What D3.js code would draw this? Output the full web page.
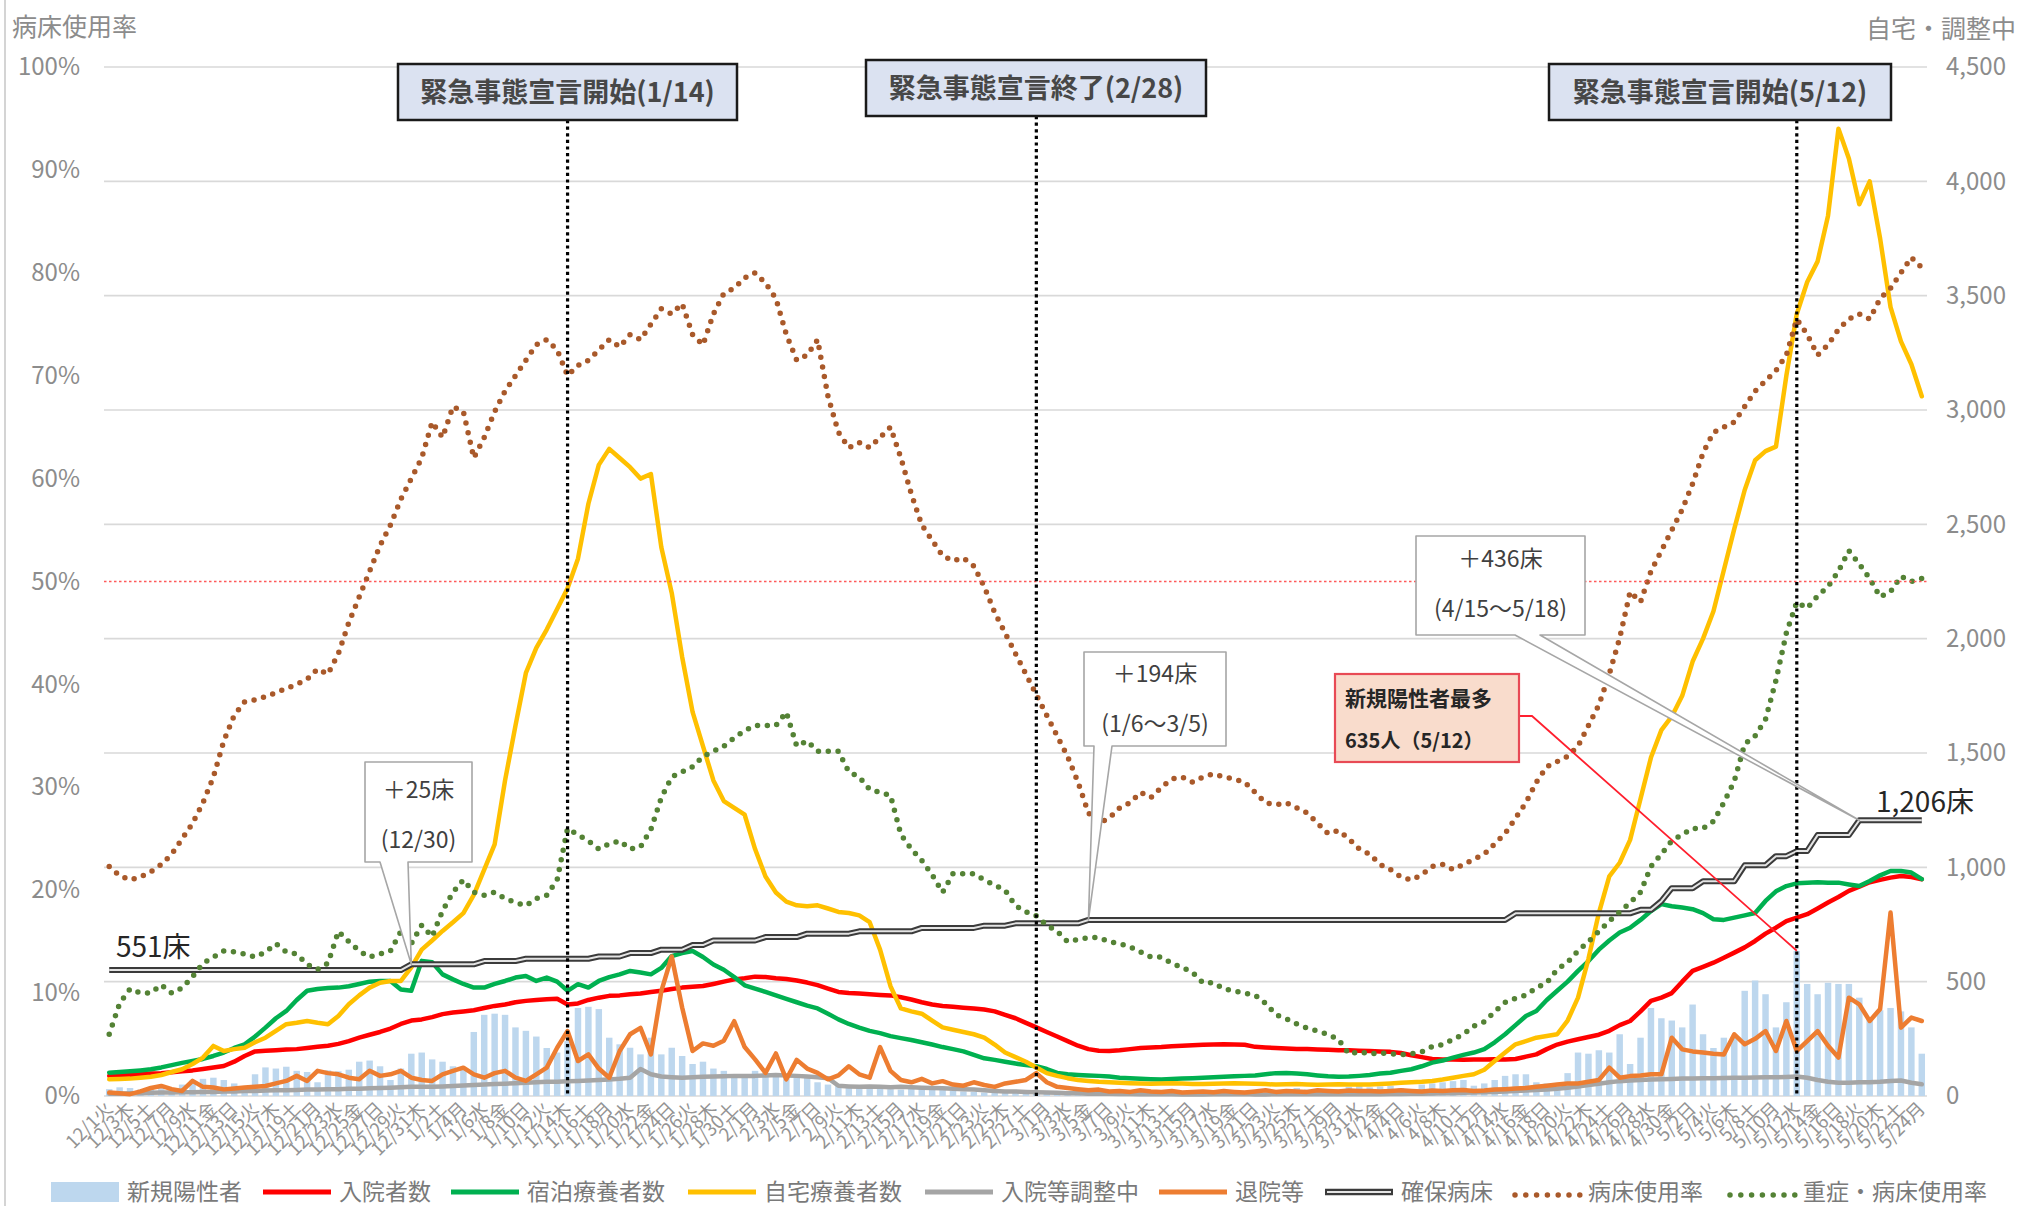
<!DOCTYPE html>
<html lang="ja">
<head>
<meta charset="utf-8">
<script src="https://cdn.jsdelivr.net/npm/d3@7"></script>
<style>
  body { margin: 0; background: #fff; }
  svg { display: block; font-family: "Noto Sans CJK JP", "Noto Sans", sans-serif; }
</style>
</head>
<body>
<svg id="chart" width="2024" height="1206"></svg>
<script>
// ---- data: daily values, 2020-12-01 .. 2021-05-24 (175 days) ----
const days = d3.utcDay.range(new Date(Date.UTC(2020, 11, 1)), new Date(Date.UTC(2021, 4, 25)));

// 新規陽性者 (people per day)
const newCases = [
  30,38,35,28,40,36,25,50,68,75, 80,70,55,40,95,125,120,128,110,105, 60,112,108,115,150,155,130,70,120,185,190,
  160,150,130,120,280,355,360,355,300,285, 260,210,190,240,385,390,380,255,226,211, 182,255,182,211,175,140,150,120,110,95,80,
  110,100,95,90,85,80,60,50,45,42, 40,38,35,30,28,32,30,28,26,22, 20,18,15,22,25,20,18,12,
  10,15,20,18,15,12,10,8,14,16, 18,20,15,12,10,14,22,20,18,15, 12,10,25,30,35,28,20,15,30,40,45,
  38,42,45,35,30,50,55,60,65,70, 45,55,70,88,95,95,60,55,50,100, 190,185,200,190,270,140,255,385,340,330,
  300,400,270,210,255,255,460,505,445,300, 410,635,490,445,495,490,490,430,345,375, 385,370,300,185
];
// 入院者数
const inpatients = [
  88,90,92,95,98,100,104,108,112,118, 125,131,150,175,195,198,200,203,205,210, 215,220,228,240,255,268,280,295,315,330,335,
  345,358,365,370,375,385,394,400,410,416, 420,423,425,400,405,420,430,438,440,445, 448,455,460,468,474,478,481,490,500,510,515,
  522,520,515,512,505,496,485,470,455,450, 448,445,442,440,432,422,410,400,394,390, 386,383,378,370,355,340,320,300,
  280,260,240,220,205,198,197,200,205,210, 212,214,218,220,222,224,225,226,225,224, 215,212,210,208,206,205,203,202,200,200,198,
  197,195,193,188,178,170,162,160,160,158, 160,160,161,160,162,172,182,205,225,238, 248,258,268,285,310,328,370,416,430,450,
  500,547,565,583,605,627,650,678,710,736, 765,780,795,820,846,870,897,915,935,945, 955,962,958,948
];
// 宿泊療養者数
const hotel = [
  102,105,108,112,117,125,135,145,153,162, 175,190,210,226,260,299,340,372,420,460, 468,472,474,480,490,500,503,503,466,460,591,
  585,532,510,490,474,474,490,503,518,525, 503,518,500,460,489,474,503,520,532,547, 540,532,560,612,625,634,608,575,552,520,484,
  470,455,440,425,410,395,383,360,335,315, 299,285,275,262,253,245,235,225,214,205, 195,180,165,158,150,142,135,130,
  118,101,95,92,90,88,85,80,78,75, 73,72,74,76,78,80,82,84,86,88, 90,95,100,101,98,95,90,86,84,85,88,
  92,98,102,110,117,130,146,155,168,180, 190,205,235,270,310,350,372,420,460,500, 547,590,640,680,715,736,770,809,839,830,
  824,817,800,773,770,780,790,800,853,895, 918,930,933,935,933,933,925,918,940,965, 984,984,977,948
];
// 自宅療養者数
const home = [
  73,74,76,80,84,92,105,117,140,168, 219,197,205,211,235,255,285,314,320,328, 320,314,350,401,440,474,495,503,503,562,640,
  680,722,760,800,880,990,1100,1380,1620,1850, 1960,2040,2130,2220,2350,2590,2760,2830,2790,2750, 2700,2720,2400,2200,1920,1680,1530,1380,1290,1260,1230,
  1080,960,890,850,834,830,834,820,805,800, 790,760,640,480,383,370,360,330,300,290, 280,270,255,225,190,170,150,125,
  100,88,78,70,66,62,60,58,56,55, 54,55,56,55,53,52,54,55,56,55, 54,52,50,51,52,50,49,50,51,50,50,
  50,52,55,58,60,62,66,72,80,88, 95,115,153,190,226,240,255,262,270,330, 430,600,800,960,1020,1120,1300,1480,1600,1660,
  1750,1900,2000,2120,2300,2480,2650,2780,2820,2840, 3150,3420,3560,3650,3850,4230,4100,3900,4000,3750, 3450,3300,3200,3060
];
// 入院等調整中
const adjusting = [
  10,10,12,12,14,15,15,16,16,18, 18,20,20,22,22,24,25,25,26,28, 28,30,30,32,32,34,35,36,38,40,40,
  40,42,44,46,48,50,52,54,56,58, 60,62,62,64,66,68,70,72,75,80, 118,95,85,82,80,82,84,85,86,88,88,
  88,90,92,90,88,85,82,78,45,42, 40,42,40,38,40,38,36,35,34,32, 30,28,25,22,20,20,18,16,
  15,14,12,12,10,10,10,9,9,8, 8,8,8,7,7,7,8,8,8,9, 7,7,8,8,8,8,8,8,8,8,8,
  8,8,9,9,10,10,11,12,12,14, 15,16,18,20,22,24,26,28,32,36, 42,48,54,60,65,68,70,72,73,74,
  76,77,78,78,79,80,80,81,82,82, 83,85,80,70,62,58,58,60,60,62, 66,68,58,51
];
// 退院等
const discharged = [
  15,12,8,20,35,44,30,22,66,40, 37,29,33,37,40,44,55,66,88,66, 110,100,95,80,73,110,88,95,110,80,70,
  66,95,110,124,95,80,100,110,80,66, 95,124,211,284,153,182,120,80,197,270, 298,182,459,610,387,197,230,220,242,327,214,
  160,101,186,73,158,120,101,73,90,130, 95,80,214,110,70,60,75,55,65,50, 45,60,48,40,55,62,70,100,
  60,40,35,30,25,28,20,22,18,25, 20,18,22,15,18,20,16,22,18,15, 20,25,18,22,20,18,25,22,20,24,22,
  22,20,22,25,22,20,24,22,25,26, 22,24,28,30,33,35,40,45,50,55, 55,62,70,124,80,87,90,95,95,255,
  204,195,190,185,182,270,226,250,284,197, 328,197,240,284,220,168,430,401,328,380, 802,299,343,328
];
// 確保病床
const beds = [
  551,551,551,551,551,551,551,551,551,551, 551,551,551,551,551,551,551,551,551,551, 551,551,551,551,551,551,551,551,551,576,576,
  576,576,576,576,576,590,590,590,590,600, 600,600,600,600,600,600,610,610,610,625, 625,625,640,640,640,660,660,680,680,680,680,
  680,695,695,695,695,710,710,710,710,710, 720,720,720,720,720,720,735,735,735,735, 735,735,745,745,745,755,755,755,
  755,755,755,755,770,770,770,770,770,770, 770,770,770,770,770,770,770,770,770,770, 770,770,770,770,770,770,770,770,770,770,770,
  770,770,770,770,770,770,770,770,770,770, 770,770,770,770,799,799,799,799,799,799, 799,799,799,799,799,799,814,814,852,909,
  909,909,939,939,939,939,1009,1009,1009,1049, 1049,1071,1071,1141,1141,1141,1141,1206,1206,1206, 1206,1206,1206,1206
];
// 病床使用率 (%)
const bedRate = [
  22.3,21.4,21.0,21.3,21.8,22.5,23.5,25.0,26.5,28.5, 31.0,34.5,37.0,38.3,38.5,38.8,39.2,39.6,40.0,40.5, 41.5,41.0,43.0,46.0,48.5,51.0,53.5,55.5,58.0,60.0,62.0,
  65.5,64.0,67.0,66.5,62.0,64.0,66.5,68.5,70.0,71.5, 73.0,73.5,72.5,70.0,71.0,71.5,72.5,73.5,72.8,74.0, 73.5,75.0,76.5,76.0,77.0,74.0,73.0,76.0,78.0,78.5,79.5,
  80.0,79.0,77.5,74.0,71.5,72.0,73.5,68.0,64.5,63.0, 63.5,63.0,64.0,65.0,62.0,58.5,55.5,54.0,52.5,52.0, 52.3,51.5,49.5,47.0,45.0,43.0,41.0,39.0,
  37.0,35.0,33.0,30.5,27.5,26.5,27.0,28.0,28.5,29.5, 29.0,30.0,30.8,31.0,30.5,31.0,31.3,31.0,30.8,30.5, 29.5,28.5,28.3,28.5,28.0,27.5,26.5,25.5,25.8,25.0,24.0,
  23.5,22.5,22.0,21.3,21.0,21.5,22.3,22.5,22.0,22.5, 23.0,23.5,24.5,25.5,27.0,28.5,30.5,32.0,32.5,33.0, 34.0,36.0,38.0,41.0,44.5,49.0,48.0,51.0,53.0,55.0,
  57.0,59.5,62.5,64.5,65.0,65.5,67.0,68.5,69.5,70.5, 72.0,75.5,74.0,72.0,73.0,74.5,75.5,76.0,75.5,77.5, 78.5,80.0,81.5,80.5
];
// 重症・病床使用率 (%)
const severeRate = [
  6.0,9.0,10.4,10.0,10.0,10.8,10.0,10.5,11.6,12.9, 13.5,14.1,14.0,13.8,13.5,14.0,14.8,14.0,13.8,12.8, 12.3,12.9,16.0,15.0,14.1,13.5,13.8,14.1,16.0,14.8,16.6,
  15.5,18.0,19.8,21.0,19.8,19.5,19.8,19.2,18.8,18.5, 19.2,19.5,21.0,26.0,25.4,24.8,24.0,24.5,24.8,24.0, 24.2,25.9,29.0,31.0,31.5,32.0,33.0,33.5,34.0,34.8,35.5,
  36.0,36.0,36.0,37.3,34.0,34.5,33.5,33.5,33.5,31.5, 31.0,29.8,29.5,29.2,25.4,24.0,22.9,21.5,19.8,21.6, 21.6,21.6,21.0,20.5,20.0,18.5,17.9,17.5,
  16.6,16.0,15.0,15.2,15.4,15.4,15.0,14.8,14.5,14.0, 13.5,13.5,12.9,12.5,12.0,11.0,11.0,10.4,10.2,10.0, 9.8,9.0,7.9,7.5,7.0,6.6,6.3,6.0,5.5,4.1,4.3,
  4.1,4.2,4.1,4.0,4.1,4.3,4.8,5.0,5.5,6.0, 6.8,7.2,8.2,9.1,9.5,9.8,10.5,11.0,12.3,13.0, 14.1,15.0,16.0,17.0,17.9,18.8,19.8,22.3,23.5,24.8,
  25.4,26.0,26.0,26.7,28.5,30.6,34.2,35.0,36.6,40.4, 45.0,48.0,47.4,48.6,49.5,51.0,53.0,51.7,50.3,48.5, 49.0,50.5,50.0,50.3
];

// axis ticks
const leftTicks = [0, 10, 20, 30, 40, 50, 60, 70, 80, 90, 100];
const rightTicks = [0, 500, 1000, 1500, 2000, 2500, 3000, 3500, 4000, 4500];
const tickLabels = [
  "12/1火","12/3木","12/5土","12/7月","12/9水","12/11金","12/13日","12/15火","12/17木","12/19土","12/21月","12/23水","12/25金","12/27日","12/29火","12/31木",
  "1/2土","1/4月","1/6水","1/8金","1/10日","1/12火","1/14木","1/16土","1/18月","1/20水","1/22金","1/24日","1/26火","1/28木","1/30土",
  "2/1月","2/3水","2/5金","2/7日","2/9火","2/11木","2/13土","2/15月","2/17水","2/19金","2/21日","2/23火","2/25木","2/27土",
  "3/1月","3/3水","3/5金","3/7日","3/9火","3/11木","3/13土","3/15月","3/17水","3/19金","3/21日","3/23火","3/25木","3/27土","3/29月","3/31水",
  "4/2金","4/4日","4/6火","4/8木","4/10土","4/12月","4/14水","4/16金","4/18日","4/20火","4/22木","4/24土","4/26月","4/28水","4/30金",
  "5/2日","5/4火","5/6木","5/8土","5/10月","5/12水","5/14金","5/16日","5/18火","5/20木","5/22土","5/24月"
];

// ---- layout ----
const svg = d3.select("#chart");
const P = { left: 104, right: 1927, top: 67, bottom: 1096 };
const N = days.length;
const x = d3.scaleBand().domain(d3.range(N)).range([P.left, P.right]);
const cx = i => x(i) + x.bandwidth() / 2;
const yR = d3.scaleLinear().domain([0, 4500]).range([P.bottom, P.top]);
const yL = d3.scaleLinear().domain([0, 100]).range([P.bottom, P.top]);

const C = {
  bar: "#bdd7ee", red: "#ff0000", green: "#00b050", yellow: "#ffc000",
  gray: "#a5a5a5", orange: "#ed7d31", brown: "#a9592a", olive: "#548235",
  axis: "#8c8c8c", grid: "#d9d9d9"
};

// outer frame edge
svg.append("line").attr("x1", 5).attr("x2", 5).attr("y1", 0).attr("y2", 1206)
  .attr("stroke", "#d4d4d4").attr("stroke-width", 2);

// gridlines (secondary axis steps)
svg.append("g").selectAll("line").data(rightTicks).join("line")
  .attr("x1", P.left).attr("x2", P.right)
  .attr("y1", d => yR(d)).attr("y2", d => yR(d))
  .attr("stroke", C.grid).attr("stroke-width", 1.6);

// bars: new positives
const bw = x.bandwidth() * 0.62;
svg.append("g").selectAll("rect").data(newCases).join("rect")
  .attr("x", (d, i) => cx(i) - bw / 2).attr("width", bw)
  .attr("y", d => yR(d)).attr("height", d => P.bottom - yR(d))
  .attr("fill", C.bar);

const lineR = d3.line().x((d, i) => cx(i)).y(d => yR(d));
const lineL = d3.line().x((d, i) => cx(i)).y(d => yL(d));

function solid(data, color, w) {
  svg.append("path").datum(data).attr("d", lineR).attr("fill", "none")
    .attr("stroke", color).attr("stroke-width", w)
    .attr("stroke-linejoin", "round").attr("stroke-linecap", "round");
}
solid(inpatients, C.red, 4.5);
solid(hotel, C.green, 4.5);
solid(home, C.yellow, 4.5);
solid(adjusting, C.gray, 4.5);
solid(discharged, C.orange, 4.5);

// secured beds: double line
svg.append("path").datum(beds).attr("d", lineR).attr("fill", "none")
  .attr("stroke", "#3b3b3b").attr("stroke-width", 6).attr("stroke-linejoin", "round");
svg.append("path").datum(beds).attr("d", lineR).attr("fill", "none")
  .attr("stroke", "#e4e4e4").attr("stroke-width", 2).attr("stroke-linejoin", "round");

// occupancy rates (dotted, left axis)
function dotted(data, color) {
  svg.append("path").datum(data).attr("d", lineL).attr("fill", "none")
    .attr("stroke", color).attr("stroke-width", 5.5)
    .attr("stroke-linecap", "round").attr("stroke-dasharray", "0 9.8");
}
dotted(bedRate, C.brown);
dotted(severeRate, C.olive);

// 50% reference line
svg.append("line").attr("x1", P.left).attr("x2", P.right)
  .attr("y1", yL(50)).attr("y2", yL(50))
  .attr("stroke", "#ff5a5a").attr("stroke-width", 1.6).attr("stroke-dasharray", "2.5 2.5");

// ---- axes ----
const gL = svg.append("g").attr("transform", `translate(80,0)`)
  .call(d3.axisLeft(yL).tickValues(leftTicks).tickFormat(d => d + "%").tickSize(0).tickPadding(0));
gL.select(".domain").remove();
gL.selectAll("text").attr("fill", C.axis).attr("font-size", 24).attr("font-family", "Noto Sans CJK JP");

const gR = svg.append("g").attr("transform", `translate(1946,0)`)
  .call(d3.axisRight(yR).tickValues(rightTicks).tickFormat(d3.format(",")).tickSize(0).tickPadding(0));
gR.select(".domain").remove();
gR.selectAll("text").attr("fill", C.axis).attr("font-size", 24).attr("font-family", "Noto Sans CJK JP");

const tickIdx = d3.range(0, N, 2);
const gX = svg.append("g").attr("transform", `translate(0,${P.bottom + 5})`)
  .call(d3.axisBottom(x).tickValues(tickIdx).tickFormat((d, j) => tickLabels[j]).tickSize(0));
gX.select(".domain").remove();
gX.selectAll("text")
  .attr("font-size", 18.5).attr("fill", "#939393").attr("font-family", "Noto Sans CJK JP")
  .attr("text-anchor", "end").attr("x", -3).attr("y", 3).attr("dy", "0.35em")
  .attr("transform", "rotate(-45)");

// axis titles
svg.append("text").attr("x", 12).attr("y", 36).text("病床使用率")
  .attr("font-size", 25).attr("fill", C.axis);
svg.append("text").attr("x", 2016).attr("y", 38).attr("text-anchor", "end").text("自宅・調整中")
  .attr("font-size", 25).attr("fill", C.axis);

// ---- annotations ----
// state of emergency markers
const emergencies = [
  { label: "緊急事態宣言開始(1/14)", idx: 44 },
  { label: "緊急事態宣言終了(2/28)", idx: 89 },
  { label: "緊急事態宣言開始(5/12)", idx: 162 }
];
const emergencyBoxes = [[398, 64, 737, 120], [866, 60, 1206, 116], [1549, 64, 1891, 120]];
emergencies.forEach((e, k) => {
  const [x0, y0, x1, y1] = emergencyBoxes[k];
  svg.append("line").attr("x1", cx(e.idx)).attr("x2", cx(e.idx))
    .attr("y1", y1).attr("y2", P.bottom)
    .attr("stroke", "#000").attr("stroke-width", 3.2).attr("stroke-dasharray", "3.2 3.4");
  svg.append("rect").attr("x", x0).attr("y", y0).attr("width", x1 - x0).attr("height", y1 - y0)
    .attr("fill", "#dbe2f1").attr("stroke", "#1a1a1a").attr("stroke-width", 2.5);
  svg.append("text").attr("x", (x0 + x1) / 2).attr("y", (y0 + y1) / 2 + 10)
    .attr("text-anchor", "middle").attr("font-size", 27).attr("font-weight", 700)
    .attr("fill", "#474747").text(e.label);
});

// bed increase callouts
function callout(box, base, tipIdx, lines, lineY) {
  const tip = [cx(tipIdx), yR(beds[tipIdx])];
  const [x0, y0, x1, y1] = box;
  svg.append("path")
    .attr("d", `M${x0},${y0}H${x1}V${y1}H${base[1]}L${tip[0]},${tip[1]}L${base[0]},${y1}H${x0}Z`)
    .attr("fill", "#fff").attr("stroke", "#a6a6a6").attr("stroke-width", 1.6)
    .attr("stroke-linejoin", "round");
  lines.forEach((t, k) => {
    svg.append("text").attr("x", (x0 + x1) / 2).attr("y", lineY[k])
      .attr("text-anchor", "middle").attr("font-size", 23).attr("fill", "#404040").text(t);
  });
}
callout([365, 762, 472, 862], [380, 408], 29, ["＋25床", "(12/30)"], [798, 848]);
callout([1084, 652, 1226, 746], [1094, 1112], 94, ["＋194床", "(1/6～3/5)"], [682, 732]);
callout([1416, 536, 1585, 635], [1515, 1540], 168, ["＋436床", "(4/15～5/18)"], [567, 617]);

// peak new positives callout
const peakIdx = 162;
svg.append("polyline")
  .attr("points", `1519,716 1532,716 ${cx(peakIdx)},${yR(newCases[peakIdx])}`)
  .attr("fill", "none").attr("stroke", "#ff1f2e").attr("stroke-width", 1.8);
svg.append("rect").attr("x", 1335).attr("y", 674).attr("width", 184).attr("height", 88)
  .attr("fill", "#f9dccc").attr("stroke", "#e84a55").attr("stroke-width", 2.2);
svg.append("text").attr("x", 1345).attr("y", 706).attr("font-size", 21).attr("font-weight", 700)
  .attr("fill", "#262626").text("新規陽性者最多");
svg.append("text").attr("x", 1345).attr("y", 748).attr("font-size", 20).attr("font-weight", 700)
  .attr("fill", "#262626").text(`${newCases[peakIdx]}人（5/12）`);

// bed count labels
svg.append("text").attr("x", 116).attr("y", 957).attr("font-size", 28).attr("fill", "#262626")
  .text(`${beds[0]}床`);
svg.append("text").attr("x", 1876).attr("y", 812).attr("font-size", 28).attr("fill", "#262626")
  .text(`${d3.format(",")(beds[N - 1])}床`);

// ---- legend ----
const legend = [
  { name: "新規陽性者", kind: "bar", color: C.bar, x: 51 },
  { name: "入院者数", kind: "line", color: C.red, x: 263 },
  { name: "宿泊療養者数", kind: "line", color: C.green, x: 451 },
  { name: "自宅療養者数", kind: "line", color: C.yellow, x: 688 },
  { name: "入院等調整中", kind: "line", color: C.gray, x: 925 },
  { name: "退院等", kind: "line", color: C.orange, x: 1159 },
  { name: "確保病床", kind: "double", color: "#3b3b3b", x: 1325 },
  { name: "病床使用率", kind: "dots", color: C.brown, x: 1512 },
  { name: "重症・病床使用率", kind: "dots", color: C.olive, x: 1727 }
];
const LY = 1192, SW = 68;
legend.forEach(it => {
  const g = svg.append("g");
  if (it.kind === "bar") {
    g.append("rect").attr("x", it.x).attr("y", LY - 10).attr("width", SW).attr("height", 20).attr("fill", it.color);
  } else if (it.kind === "line") {
    g.append("line").attr("x1", it.x).attr("x2", it.x + SW).attr("y1", LY).attr("y2", LY)
      .attr("stroke", it.color).attr("stroke-width", 5);
  } else if (it.kind === "double") {
    g.append("line").attr("x1", it.x).attr("x2", it.x + SW).attr("y1", LY).attr("y2", LY)
      .attr("stroke", it.color).attr("stroke-width", 6.5);
    g.append("line").attr("x1", it.x + 2).attr("x2", it.x + SW - 2).attr("y1", LY).attr("y2", LY)
      .attr("stroke", "#e4e4e4").attr("stroke-width", 2.2);
  } else {
    g.append("line").attr("x1", it.x + 3).attr("x2", it.x + SW).attr("y1", LY + 3).attr("y2", LY + 3)
      .attr("stroke", it.color).attr("stroke-width", 5.5)
      .attr("stroke-linecap", "round").attr("stroke-dasharray", "0 10.8");
  }
  g.append("text").attr("x", it.x + SW + 8).attr("y", LY + 8).attr("font-size", 23)
    .attr("fill", "#7a7a7a").text(it.name);
});
</script>
</body>
</html>
